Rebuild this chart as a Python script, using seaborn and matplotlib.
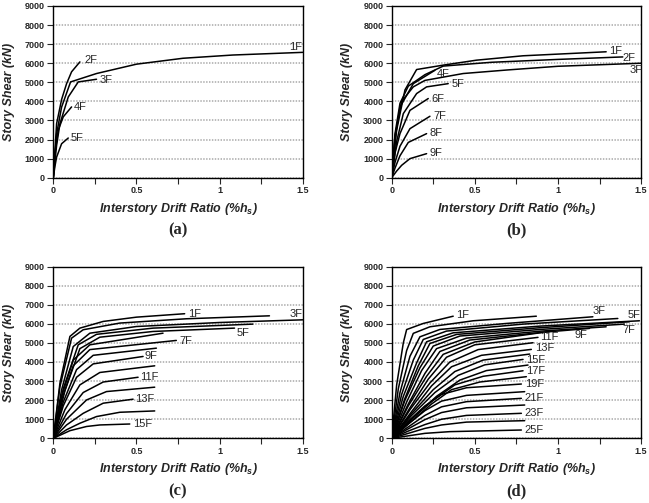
import matplotlib
matplotlib.use("Agg")
import matplotlib.pyplot as plt
import pandas as pd
import seaborn as sns

# ---- panel (a): 5-storey frame ----
A_STORIES = ["1F", "2F", "3F", "4F", "5F"]
A_DRIFT = [
    [0, 0.02, 0.05, 0.104, 0.26, 0.5, 0.78, 1.08, 1.5],
    [0, 0.02, 0.05, 0.08, 0.11, 0.16],
    [0, 0.02, 0.04, 0.09, 0.15, 0.26],
    [0, 0.01, 0.03, 0.06, 0.11],
    [0, 0.01, 0.02, 0.05, 0.09],
]
A_SHEAR = [
    [0, 2300, 3700, 5020, 5460, 5950, 6260, 6430, 6570],
    [0, 2830, 4100, 4930, 5550, 6070],
    [0, 1700, 2830, 4230, 5020, 5160],
    [0, 1300, 2500, 3190, 3710],
    [0, 600, 1080, 1780, 2080],
]
A_TAG_XY = [(1.42, 6870), (0.19, 6150), (0.28, 5130), (0.125, 3710), (0.105, 2070)]

# ---- panel (b): 9-storey frame ----
B_STORIES = ["1F", "2F", "3F", "4F", "5F", "6F", "7F", "8F", "9F"]
B_DRIFT = [
    [0, 0.03, 0.08, 0.15, 0.31, 0.51, 0.79, 1.29],
    [0, 0.02, 0.05, 0.10, 0.20, 0.31, 0.6, 1.0, 1.39],
    [0, 0.02, 0.06, 0.13, 0.2, 0.43, 0.7, 1.0, 1.5],
    [0, 0.02, 0.05, 0.13, 0.26],
    [0, 0.03, 0.07, 0.15, 0.21, 0.34],
    [0, 0.02, 0.05, 0.11, 0.22],
    [0, 0.02, 0.05, 0.11, 0.23],
    [0, 0.02, 0.05, 0.10, 0.21],
    [0, 0.03, 0.06, 0.11, 0.21],
]
B_SHEAR = [
    [0, 2500, 4600, 5670, 5900, 6160, 6390, 6600],
    [0, 2300, 3900, 4800, 5400, 5850, 6050, 6200, 6330],
    [0, 2200, 4000, 4760, 5100, 5460, 5650, 5840, 6000],
    [0, 2000, 3700, 4930, 5630],
    [0, 1900, 3360, 4410, 4760, 4930],
    [0, 1300, 2310, 3530, 4150],
    [0, 800, 1650, 2570, 3220],
    [0, 500, 1150, 1850, 2310],
    [0, 350, 650, 1000, 1260],
]
B_TAG_XY = [(1.31, 6650), (1.39, 6300), (1.43, 5670), (0.27, 5460), (0.36, 4900),
            (0.24, 4150), (0.25, 3240), (0.23, 2330), (0.23, 1280)]

# ---- panel (c): 15-storey frame ----
C_STORIES = ["%dF" % i for i in range(1, 16)]
C_DRIFT = [
    [0, 0.04, 0.10, 0.16, 0.30, 0.50, 0.79],
    [0, 0.04, 0.11, 0.18, 0.40, 0.80, 1.30],
    [0, 0.05, 0.12, 0.22, 0.50, 1.00, 1.50],
    [0, 0.06, 0.15, 0.26, 0.60, 1.20],
    [0, 0.07, 0.16, 0.28, 0.60, 1.09],
    [0, 0.05, 0.12, 0.22, 0.66],
    [0, 0.05, 0.12, 0.22, 0.74],
    [0, 0.06, 0.14, 0.24, 0.62],
    [0, 0.06, 0.14, 0.24, 0.54],
    [0, 0.07, 0.16, 0.28, 0.61],
    [0, 0.08, 0.18, 0.30, 0.51],
    [0, 0.08, 0.20, 0.32, 0.61],
    [0, 0.08, 0.18, 0.30, 0.48],
    [0, 0.08, 0.16, 0.26, 0.40, 0.61],
    [0, 0.10, 0.20, 0.28, 0.46],
]
C_SHEAR = [
    [0, 2890, 5340, 5775, 6125, 6350, 6530],
    [0, 2710, 5250, 5690, 6040, 6265, 6420],
    [0, 2540, 4810, 5510, 5860, 6070, 6210],
    [0, 2600, 4900, 5450, 5775, 5985],
    [0, 2500, 4700, 5300, 5600, 5775],
    [0, 2200, 4100, 4900, 5510],
    [0, 2000, 3800, 4650, 5130],
    [0, 1900, 3600, 4350, 4725],
    [0, 1700, 3200, 3900, 4290],
    [0, 1500, 2800, 3450, 3800],
    [0, 1300, 2400, 2950, 3200],
    [0, 1000, 2010, 2450, 2680],
    [0, 700, 1310, 1840, 2050],
    [0, 450, 790, 1140, 1365, 1435],
    [0, 400, 620, 700, 750],
]
C_TAG_XY = {0: (0.81, 6530), 2: (1.42, 6530), 4: (1.1, 5510), 6: (0.76, 5075),
            8: (0.55, 4290), 10: (0.52, 3200), 12: (0.49, 2050), 14: (0.48, 750)}

# ---- panel (d): 25-storey frame ----
D_STORIES = ["%dF" % i for i in range(1, 26)]
D_DRIFT = [
    [0, 0.03, 0.07, 0.09, 0.19, 0.37],
    [0, 0.04, 0.09, 0.13, 0.23, 0.49, 0.87],
    [0, 0.05, 0.11, 0.17, 0.29, 0.69, 1.21],
    [0, 0.06, 0.13, 0.19, 0.33, 0.79, 1.36],
    [0, 0.07, 0.15, 0.21, 0.37, 0.89, 1.49],
    [0, 0.08, 0.16, 0.23, 0.39, 0.89, 1.43],
    [0, 0.08, 0.17, 0.25, 0.41, 0.89, 1.40],
    [0, 0.09, 0.18, 0.27, 0.45, 0.90, 1.29],
    [0, 0.10, 0.20, 0.29, 0.47, 0.90, 1.19],
    [0, 0.10, 0.21, 0.31, 0.50, 0.95],
    [0, 0.11, 0.22, 0.33, 0.50, 0.88],
    [0, 0.11, 0.23, 0.35, 0.52, 0.85],
    [0, 0.12, 0.24, 0.36, 0.54, 0.84],
    [0, 0.12, 0.25, 0.38, 0.55, 0.83],
    [0, 0.12, 0.26, 0.40, 0.56, 0.79],
    [0, 0.13, 0.27, 0.41, 0.57, 0.82],
    [0, 0.12, 0.25, 0.38, 0.55, 0.79],
    [0, 0.12, 0.24, 0.36, 0.53, 0.81],
    [0, 0.10, 0.20, 0.30, 0.45, 0.78],
    [0, 0.10, 0.20, 0.30, 0.45, 0.80],
    [0, 0.10, 0.20, 0.30, 0.45, 0.78],
    [0, 0.10, 0.20, 0.30, 0.45, 0.80],
    [0, 0.10, 0.20, 0.30, 0.45, 0.78],
    [0, 0.10, 0.20, 0.30, 0.45, 0.80],
    [0, 0.10, 0.20, 0.35, 0.78],
]
D_SHEAR = [
    [0, 2800, 5000, 5700, 6020, 6400],
    [0, 2600, 4600, 5500, 5845, 6160, 6400],
    [0, 2400, 4300, 5320, 5705, 6020, 6370],
    [0, 2300, 4100, 5180, 5620, 5985, 6280],
    [0, 2200, 3950, 5060, 5530, 5880, 6160],
    [0, 2100, 3800, 4970, 5445, 5795, 6110],
    [0, 2000, 3700, 4835, 5360, 5705, 5985],
    [0, 1900, 3550, 4700, 5250, 5620, 5845],
    [0, 1800, 3400, 4550, 5150, 5550, 5760],
    [0, 1700, 3250, 4400, 5050, 5600],
    [0, 1600, 3100, 4250, 4900, 5290],
    [0, 1500, 2900, 4000, 4650, 5010],
    [0, 1400, 2750, 3750, 4350, 4660],
    [0, 1300, 2550, 3500, 4100, 4415],
    [0, 1200, 2400, 3300, 3850, 4135],
    [0, 1100, 2200, 3050, 3550, 3840],
    [0, 1000, 2000, 2800, 3250, 3540],
    [0, 900, 1800, 2550, 2950, 3230],
    [0, 900, 1700, 2300, 2650, 2845],
    [0, 750, 1450, 1950, 2250, 2445],
    [0, 600, 1200, 1650, 1920, 2095],
    [0, 500, 980, 1350, 1600, 1745],
    [0, 380, 720, 1000, 1200, 1310],
    [0, 260, 520, 700, 850, 925],
    [0, 130, 260, 350, 435],
]
D_TAG_XY = {0: (0.39, 6450), 2: (1.21, 6680), 4: (1.42, 6450), 6: (1.39, 5670),
            8: (1.1, 5410), 10: (0.89, 5310), 12: (0.86, 4720), 14: (0.81, 4130),
            16: (0.81, 3540), 18: (0.8, 2860), 20: (0.8, 2110), 22: (0.8, 1330),
            24: (0.8, 450)}


def to_frame(stories, drift, shear):
    rows = []
    for name, xs, ys in zip(stories, drift, shear):
        for x, y in zip(xs, ys):
            rows.append({"story": name, "drift": x, "shear": y})
    return pd.DataFrame(rows)


def draw_panel(ax, stories, drift, shear, tags, caption):
    df = to_frame(stories, drift, shear)
    sns.lineplot(data=df, x="drift", y="shear", units="story", estimator=None,
                 sort=False, color="black", linewidth=1.1, legend=False, ax=ax)
    items = tags.items() if isinstance(tags, dict) else enumerate(tags)
    for i, (tx, ty) in items:
        ax.text(tx, ty, stories[i], fontsize=8, ha="left", va="center",
                family="Liberation Sans")

    ax.set_xlim(0, 1.5)
    ax.set_ylim(0, 9000)
    ax.set_xticks([0, 0.5, 1, 1.5])
    ax.set_xticklabels(["0", "0.5", "1", "1.5"])
    ax.set_xticks([0.25, 0.75, 1.25], minor=True)
    ax.set_yticks(range(0, 9001, 1000))
    ax.tick_params(which="both", direction="out", length=4, width=0.8,
                   labelsize=6.5, pad=2, bottom=True, left=True)
    for lab in ax.get_xticklabels() + ax.get_yticklabels():
        lab.set_fontweight("bold")
    # light dotted horizontal grid
    ax.yaxis.grid(True, linestyle=(0, (0.8, 0.8)), color="#b5b5b5", linewidth=1.3)
    ax.xaxis.grid(False)
    ax.set_axisbelow(True)
    for sp in ax.spines.values():
        sp.set_visible(True)
        sp.set_color("black")
        sp.set_linewidth(1.0)
    ax.set_xlabel(r"Interstory Drift Ratio (%$h_s$)", fontsize=9,
                  fontweight="bold", fontstyle="italic", labelpad=4)
    ax.set_ylabel("Story Shear (kN)", fontsize=9, fontweight="bold",
                  fontstyle="italic", labelpad=7)
    pos = ax.get_position()
    ax.figure.text(pos.x0 + pos.width / 2, pos.y0 - 0.105, caption,
                   ha="center", va="center", fontsize=12, fontweight="bold",
                   family="Liberation Serif")


sns.set_theme(style="white")
plt.rcParams["font.family"] = ["Liberation Sans", "DejaVu Sans"]
plt.rcParams["mathtext.fontset"] = "custom"
plt.rcParams["mathtext.it"] = "Liberation Sans:bold:italic"
plt.rcParams["mathtext.rm"] = "Liberation Sans:bold"

fig = plt.figure(figsize=(6.49, 5.03), dpi=100)
w, h = 0.3843, 0.3414
ax_a = fig.add_axes([0.0821, 0.6467, w, h])
ax_b = fig.add_axes([0.6035, 0.6467, w, h])
ax_c = fig.add_axes([0.0821, 0.1286, w, h])
ax_d = fig.add_axes([0.6035, 0.1286, w, h])

draw_panel(ax_a, A_STORIES, A_DRIFT, A_SHEAR, A_TAG_XY, "(a)")
draw_panel(ax_b, B_STORIES, B_DRIFT, B_SHEAR, B_TAG_XY, "(b)")
draw_panel(ax_c, C_STORIES, C_DRIFT, C_SHEAR, C_TAG_XY, "(c)")
draw_panel(ax_d, D_STORIES, D_DRIFT, D_SHEAR, D_TAG_XY, "(d)")

fig.savefig("out.png", dpi=100, facecolor="white")
